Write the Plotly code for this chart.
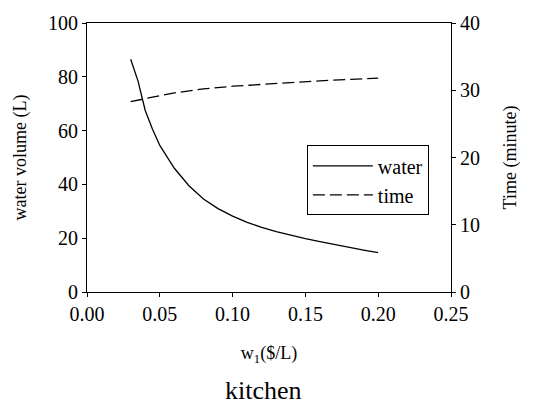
import plotly.graph_objects as go

price = [0.03, 0.035, 0.04, 0.045, 0.05, 0.06, 0.07, 0.08, 0.09, 0.10, 0.11, 0.12,
         0.13, 0.14, 0.15, 0.16, 0.17, 0.18, 0.19, 0.20]
water = [86.5, 78.5, 67.5, 60.5, 54.5, 46.0, 39.5, 34.6, 31.0, 28.2, 25.9, 24.0,
         22.4, 21.0, 19.8, 18.7, 17.6, 16.6, 15.6, 14.6]
time_price = [0.03, 0.04, 0.05, 0.06, 0.07, 0.08, 0.10, 0.12, 0.14, 0.16, 0.18, 0.20]
time_min = [28.3, 28.8, 29.2, 29.6, 29.9, 30.2, 30.6, 30.9, 31.2, 31.4, 31.6, 31.8]

FONT = "Liberation Serif, Times New Roman, serif"
TICKFONT = dict(family=FONT, size=20, color="black")
TITLEFONT = dict(family=FONT, size=18, color="black")

fig = go.Figure()
fig.add_trace(go.Scatter(x=price, y=water, mode="lines", name="water",
                         line=dict(color="black", width=1.3), yaxis="y"))
fig.add_trace(go.Scatter(x=time_price, y=time_min, mode="lines", name="time",
                         line=dict(color="black", width=1.3, dash="12px,5px"), yaxis="y2"))

fig.update_layout(
    width=544, height=405,
    margin=dict(l=87, r=93, t=18, b=113),
    paper_bgcolor="white", plot_bgcolor="white",
    font=dict(family=FONT, size=18, color="black"),
    showlegend=True,
    legend=dict(x=0.604, y=0.545, xanchor="left", yanchor="top",
                bordercolor="black", borderwidth=1, bgcolor="white",
                font=dict(family=FONT, size=20), tracegroupgap=0,
                itemwidth=60),
    xaxis=dict(range=[0, 0.25], tickvals=[0, 0.05, 0.10, 0.15, 0.20, 0.25],
               ticktext=["0.00", "0.05", "0.10", "0.15", "0.20", "0.25"],
               tickfont=TICKFONT,
               showgrid=False, zeroline=False, showline=True, linecolor="black",
               linewidth=1, mirror=True, ticks="outside", ticklen=4, tickcolor="black",
               title=dict(text="w<sub>1</sub>($/L)", font=TITLEFONT, standoff=22)),
    yaxis=dict(range=[0, 100], tickvals=[0, 20, 40, 60, 80, 100],
               tickfont=TICKFONT,
               showgrid=False, zeroline=False, showline=True, linecolor="black",
               linewidth=1, ticks="outside", ticklen=4, tickcolor="black",
               title=dict(text="water volume (L)", font=TITLEFONT, standoff=16)),
    yaxis2=dict(range=[0, 40], tickvals=[0, 10, 20, 30, 40], overlaying="y", side="right",
                tickfont=TICKFONT,
                showgrid=False, zeroline=False, showline=True, linecolor="black",
                linewidth=1, ticks="outside", ticklen=4, tickcolor="black",
                title=dict(text="Time (minute)", font=TITLEFONT, standoff=24)),
    annotations=[dict(text="kitchen", x=0.485, y=-0.305, xref="paper", yref="paper",
                      xanchor="center", yanchor="top", showarrow=False,
                      font=dict(family=FONT, size=26))],
)

fig.write_html("out.html")
